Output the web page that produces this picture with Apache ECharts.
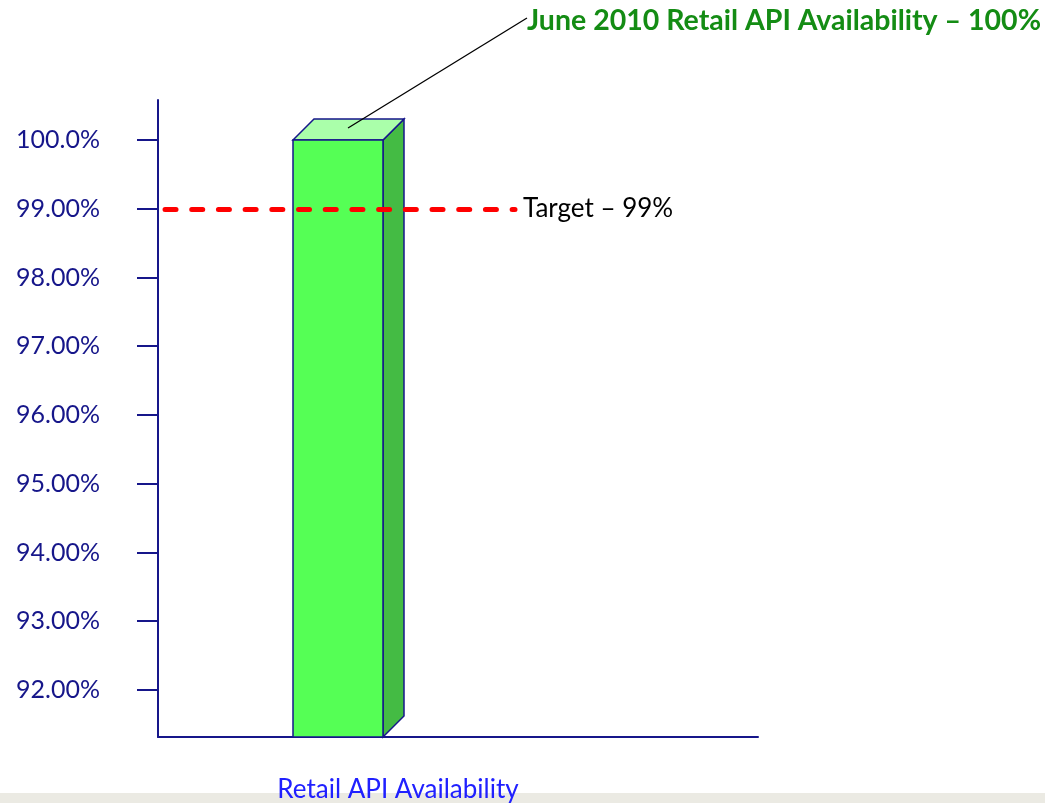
<!DOCTYPE html>
<html>
<head>
<meta charset="utf-8">
<title>Retail API Availability</title>
<script src="https://cdn.jsdelivr.net/npm/echarts@6/dist/echarts.min.js"></script>
<style>
  html, body { margin: 0; padding: 0; background: #fff; }
  #chart {
    width: 1045px;
    height: 803px;
    background: linear-gradient(to bottom, #fff 0, #fff 793px, #ebeae3 793px, #ebeae3 803px);
  }
</style>
</head>
<body>
<div id="chart"></div>
<script>
// chart values
const categories = ['Retail API Availability'];
const availability = [100];
const targetValue = 99;
const targetLabel = 'Target \u2013 99%';
const titleText = 'June 2010 Retail API Availability \u2013 100%';
const yTicks = [92, 93, 94, 95, 96, 97, 98, 99, 100];

// layout (x is a plain 0..10 track, the bar sits at slot 3)
const barSlot = 3;
const barWidth = 1.5;
const depth = 21;
const yMin = 91.316;
const yMax = 100.582;

const navy = '#16168a';
const font = 'Lato, "Open Sans", sans-serif';

function tickLabel(v) {
  return v === 100 ? '100.0%' : v.toFixed(2) + '%';
}

function renderBar(params, api) {
  const x = api.value(0);
  const top = api.coord([x, api.value(1)]);
  const bottom = api.coord([x, yMin]);
  const half = api.size([barWidth, 0])[0] / 2;
  const l = top[0] - half, r = top[0] + half;
  const line = { stroke: navy, lineWidth: 1.5 };
  return {
    type: 'group',
    children: [
      {
        type: 'polygon',
        shape: { points: [[r, top[1]], [r + depth, top[1] - depth], [r + depth, bottom[1] - depth], [r, bottom[1]]] },
        style: Object.assign({ fill: '#44bb44' }, line)
      },
      {
        type: 'polygon',
        shape: { points: [[l, top[1]], [l + depth, top[1] - depth], [r + depth, top[1] - depth], [r, top[1]]] },
        style: Object.assign({ fill: '#aaffaa' }, line)
      },
      {
        type: 'rect',
        shape: { x: l, y: top[1], width: r - l, height: bottom[1] - top[1] },
        style: Object.assign({ fill: '#55ff55' }, line)
      }
    ]
  };
}

const chart = echarts.init(document.getElementById('chart'));

chart.setOption({
  animation: false,
  backgroundColor: 'transparent',
  title: {
    text: titleText,
    left: 522,
    top: 1,
    textStyle: { color: '#148c14', fontSize: 28.5, fontWeight: 'bold', fontFamily: font }
  },
  grid: { left: 158, top: 100, right: 287, bottom: 66, outerBoundsMode: 'none', containLabel: false },
  xAxis: {
    type: 'value',
    min: 0,
    max: 10,
    axisLine: { show: true, onZero: false, lineStyle: { color: navy, width: 2 } },
    axisTick: { show: false },
    axisLabel: { show: false },
    splitLine: { show: false },
    name: categories[0],
    nameLocation: 'middle',
    nameGap: 40,
    nameTextStyle: { color: '#2020ff', fontSize: 26, fontFamily: font, padding: [0, 120, 0, 0] }
  },
  yAxis: {
    type: 'value',
    min: yMin,
    max: yMax,
    axisLine: { show: true, lineStyle: { color: navy, width: 2 } },
    axisTick: { show: true, length: 21, customValues: yTicks, lineStyle: { color: navy, width: 2 } },
    axisLabel: {
      customValues: yTicks,
      margin: 58,
      color: navy,
      fontSize: 25,
      fontFamily: font,
      formatter: tickLabel
    },
    splitLine: { show: false }
  },
  series: [
    {
      type: 'custom',
      name: categories[0],
      renderItem: renderBar,
      clip: false,
      data: availability.map(v => [barSlot, v]),
      z: 2
    },
    {
      type: 'line',
      data: [],
      z: 3,
      markLine: {
        symbol: 'none',
        silent: true,
        lineStyle: { color: '#ff0000', width: 5, type: [11, 15.7], cap: 'round' },
        label: {
          show: true,
          position: 'end',
          distance: 8,
          formatter: targetLabel,
          color: '#000',
          fontSize: 26,
          fontFamily: font
        },
        data: [[{ coord: [0.117, targetValue] }, { coord: [5.95, targetValue] }]]
      }
    }
  ]
});

// leader line from the bar top to the annotation
const topPx = chart.convertToPixel({ seriesIndex: 0 }, [barSlot, availability[0]]);
chart.setOption({
  graphic: [{
    type: 'line',
    shape: { x1: topPx[0] + 10, y1: topPx[1] - 12, x2: 527, y2: 18 },
    style: { stroke: '#000', lineWidth: 1.3 },
    z: 10
  }]
});
</script>
</body>
</html>
